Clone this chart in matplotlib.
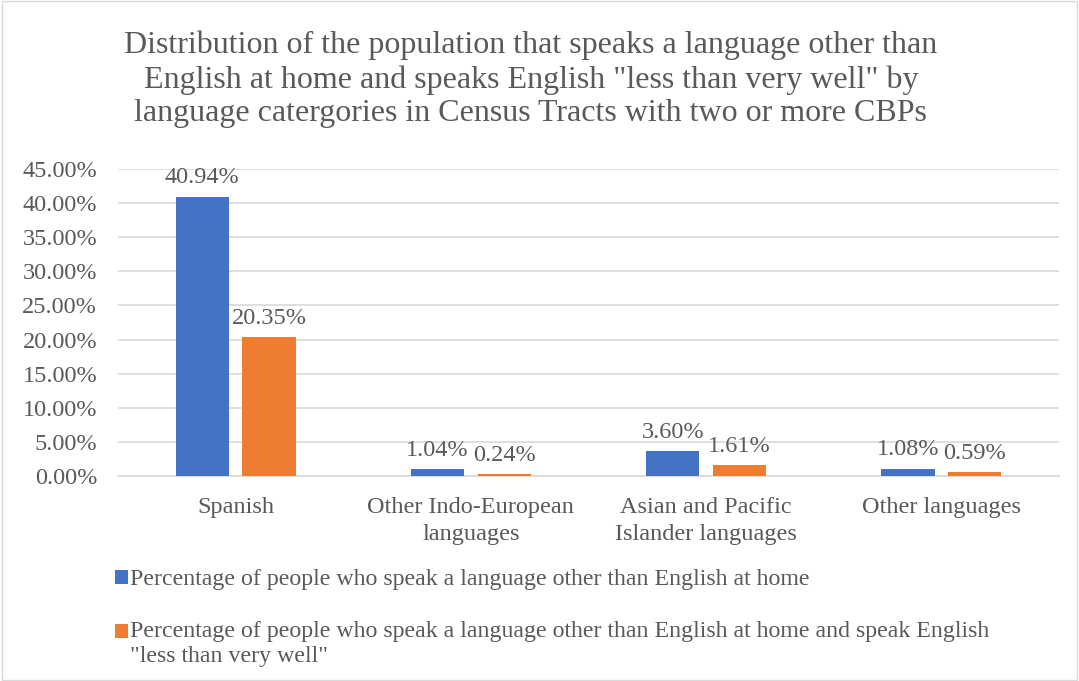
import matplotlib
matplotlib.use("Agg")
import matplotlib.pyplot as plt
from matplotlib.patches import Rectangle
from matplotlib.legend_handler import HandlerPatch
import numpy as np

categories = ["Spanish", "Other Indo-European\nlanguages", "Asian and Pacific\nIslander languages", "Other languages"]
series_names = [
    "Percentage of people who speak a language other than English at home",
    "Percentage of people who speak a language other than English at home and speak English\n\"less than very well\"",
]
speak_other = [40.94, 1.04, 3.60, 1.08]
less_than_very_well = [20.35, 0.24, 1.61, 0.59]
yticks = [0, 5, 10, 15, 20, 25, 30, 35, 40, 45]
title = ("Distribution of the population that speaks a language other than\n"
         "English at home and speaks English \"less than very well\" by\n"
         "language catergories in Census Tracts with two or more CBPs")

plt.rcParams['font.family'] = ['Liberation Serif', 'DejaVu Serif']
TXT = "#595959"
BLUE = "#4472C4"
ORANGE = "#ED7D31"
FS = 17.5

fig = plt.figure(figsize=(10.79, 6.81), dpi=100)
fig.patches.append(Rectangle((0.002, 0.002), 0.996, 0.996, transform=fig.transFigure,
                             fill=False, edgecolor="#d9d9d9", linewidth=1))
ax = fig.add_axes([0.1094, 0.301, 0.8721, 0.4508])

x = np.arange(len(categories))
w = 0.226
off = 0.142
b1 = ax.bar(x - off, speak_other, w, color=BLUE, label=series_names[0], zorder=3)
b2 = ax.bar(x + off, less_than_very_well, w, color=ORANGE, label=series_names[1], zorder=3)

for bars, vals in ((b1, speak_other), (b2, less_than_very_well)):
    for r, v in zip(bars, vals):
        ax.annotate(f"{v:.2f}%", (r.get_x() + r.get_width() / 2, r.get_height()),
                    xytext=(0, 6), textcoords="offset points", ha="center", va="bottom",
                    fontsize=FS, color=TXT)

ax.set_xlim(-0.5, 3.5)
ax.set_ylim(0, 45)
ax.set_yticks(yticks)
ax.set_yticklabels([f"{v:.2f}%" for v in yticks])
ax.set_xticks(x)
ax.set_xticklabels(categories, linespacing=1.4)
ax.tick_params(axis="both", length=0, labelsize=FS, colors=TXT)
ax.tick_params(axis="x", pad=15)
ax.tick_params(axis="y", pad=15)
ax.grid(axis="y", color="#d9d9d9", linewidth=1.2, zorder=0)
for s in ["top", "right", "left"]:
    ax.spines[s].set_visible(False)
ax.spines["bottom"].set_color("#d9d9d9")
ax.spines["bottom"].set_linewidth(1.2)

fig.text(0.492, 0.955, title, ha="center", va="top", fontsize=23, color=TXT, linespacing=1.22)


def shifted_square(shift):
    def make(legend, orig_handle, xdescent, ydescent, width, height, fontsize):
        return Rectangle((-xdescent, -ydescent + shift), width, height)
    return make


h1 = b1.patches[0]
h2 = b2.patches[0]
leg = fig.legend(handles=[h1, h2], labels=series_names, loc="upper left",
                 bbox_to_anchor=(0.098, 0.178),
                 frameon=False, fontsize=17.2, handlelength=0.55, handleheight=0.55,
                 handletextpad=0.05, labelspacing=1.3, borderaxespad=0,
                 handler_map={h2: HandlerPatch(patch_func=shifted_square(9.5))})
for t in leg.get_texts():
    t.set_color(TXT)
    t.set_linespacing(1.25)

fig.savefig("out.png", dpi=100)
